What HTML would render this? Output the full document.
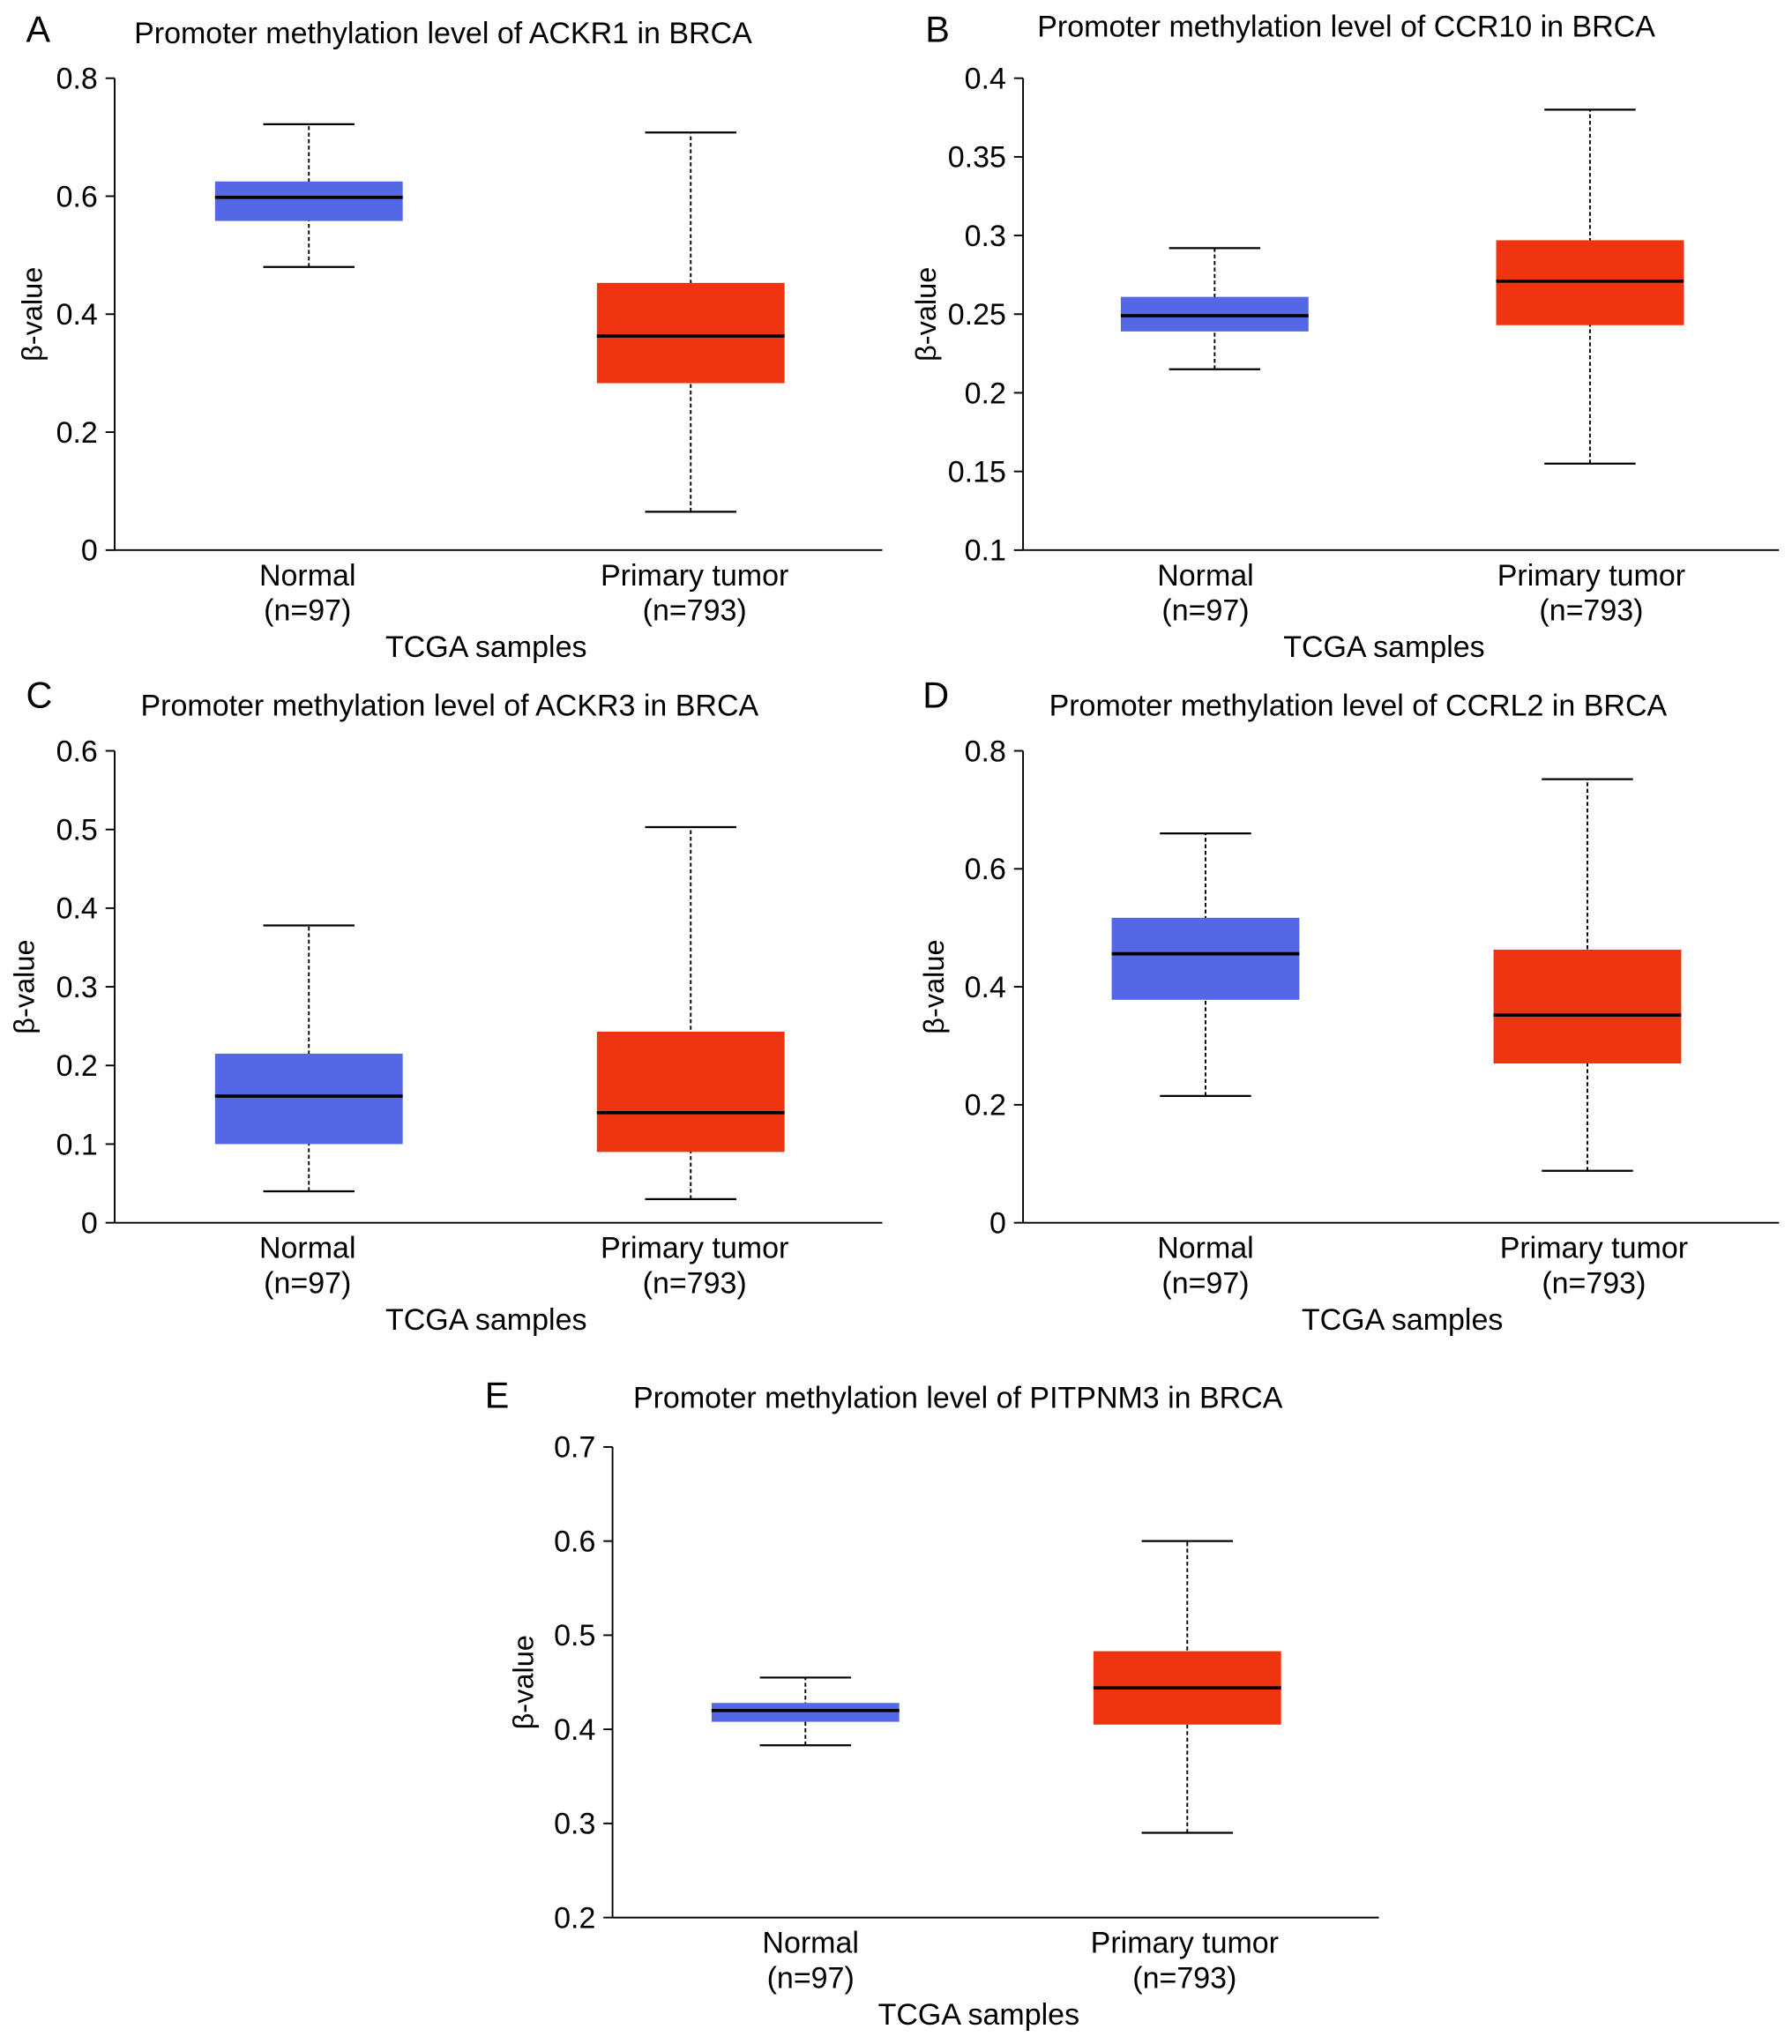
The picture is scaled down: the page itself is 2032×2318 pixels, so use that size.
<!DOCTYPE html>
<html><head><meta charset="utf-8"><style>
html,body{margin:0;padding:0;background:#fff;}
svg{display:block;font-family:"Liberation Sans",Arial,sans-serif;}
</style></head><body>
<svg id="fig" width="2032" height="2318" viewBox="0 0 1375 1568" preserveAspectRatio="none" xmlns="http://www.w3.org/2000/svg"></svg>
<script>
const categories = ["Normal", "Primary tumor"];
const sampleSizes = ["(n=97)", "(n=793)"];
const genes = ["ACKR1", "CCR10", "ACKR3", "CCRL2", "PITPNM3"];
// [whiskerLow, q1, median, q3, whiskerHigh] per group
const ackr1Normal = [0.48, 0.558, 0.598, 0.625, 0.722];
const ackr1Tumor = [0.065, 0.283, 0.363, 0.453, 0.708];
const ccr10Normal = [0.215, 0.239, 0.249, 0.261, 0.292];
const ccr10Tumor = [0.155, 0.243, 0.271, 0.297, 0.380];
const ackr3Normal = [0.04, 0.10, 0.161, 0.215, 0.378];
const ackr3Tumor = [0.03, 0.09, 0.14, 0.243, 0.503];
const ccrl2Normal = [0.215, 0.378, 0.456, 0.517, 0.66];
const ccrl2Tumor = [0.088, 0.27, 0.352, 0.463, 0.752];
const pitpnm3Normal = [0.383, 0.408, 0.42, 0.428, 0.455];
const pitpnm3Tumor = [0.29, 0.405, 0.444, 0.483, 0.6];
const ticksA = [0, 0.2, 0.4, 0.6, 0.8];
const ticksB = [0.1, 0.15, 0.2, 0.25, 0.3, 0.35, 0.4];
const ticksC = [0, 0.1, 0.2, 0.3, 0.4, 0.5, 0.6];
const ticksD = [0, 0.2, 0.4, 0.6, 0.8];
const ticksE = [0.2, 0.3, 0.4, 0.5, 0.6, 0.7];
const tickLabelsB = ["0.1","0.15","0.2","0.25","0.3","0.35","0.4"];

const panels = [
 {letter:"A",gene:genes[0],ax:88,x2:677,top:60,bot:422,ticks:ticksA,c:[237,530],lc:[236,533],data:[ackr1Normal,ackr1Tumor],lx:20,ly:32,tx:340,ty:33,ylx:25,xt:373},
 {letter:"B",gene:genes[1],ax:785,x2:1365,top:60,bot:422,ticks:ticksB,c:[932,1220],lc:[925,1221],data:[ccr10Normal,ccr10Tumor],lx:710,ly:32,tx:1033,ty:28,ylx:711,xt:1062},
 {letter:"C",gene:genes[2],ax:88,x2:677,top:576,bot:938,ticks:ticksC,c:[237,530],lc:[236,533],data:[ackr3Normal,ackr3Tumor],lx:20,ly:543,tx:345,ty:549,ylx:19,xt:373},
 {letter:"D",gene:genes[3],ax:785,x2:1365,top:576,bot:938,ticks:ticksD,c:[925,1218],lc:[925,1223],data:[ccrl2Normal,ccrl2Tumor],lx:708,ly:543,tx:1042,ty:549,ylx:717,xt:1076},
 {letter:"E",gene:genes[4],ax:470,x2:1058,top:1110,bot:1471,ticks:ticksE,c:[618,911],lc:[622,909],data:[pitpnm3Normal,pitpnm3Tumor],lx:372,ly:1080,tx:735,ty:1080,ylx:402,xt:751}
];
const colors = ["#5468e6", "#ef3411"];
const svg = document.getElementById('fig');
const NS = "http://www.w3.org/2000/svg";
function mk(tag, attrs, parent, text){
  const e = document.createElementNS(NS, tag);
  for (const k in attrs) e.setAttribute(k, attrs[k]);
  if (text !== undefined) e.textContent = text;
  parent.appendChild(e); return e;
}
function fmt(v){ return String(Math.round(v*100)/100); }
panels.forEach((p, pi) => {
  const g = mk('g', {}, svg);
  
  
  const lo = p.ticks[0], hi = p.ticks[p.ticks.length-1];
  const y = v => p.bot - (v - lo) / (hi - lo) * (p.bot - p.top);
  let t = mk('text', {x:p.lx, y:p.ly, 'font-size':28}, g, p.letter);
  
  
  t = mk('text', {x:p.tx, y:p.ty, 'font-size':23, 'text-anchor':'middle'}, g, 'Promoter methylation level of ' + p.gene + ' in BRCA');
  
  
  let a = mk('line', {x1:p.ax, y1:p.top, x2:p.ax, y2:p.bot, stroke:'#000', 'stroke-width':1.3}, g);
  
  
  a = mk('line', {x1:p.ax, y1:p.bot, x2:p.x2, y2:p.bot, stroke:'#000', 'stroke-width':1.3}, g);
  
  
  p.ticks.forEach((tv, i) => {
    const yy = y(tv);
    mk('line', {x1:p.ax-7, y1:yy, x2:p.ax, y2:yy, stroke:'#000', 'stroke-width':1.3}, g);
    const lab = mk('text', {x:p.ax-13, y:yy+8, 'font-size':23, 'text-anchor':'end'}, g, p.letter==='B' ? tickLabelsB[i] : fmt(tv));
    
    
  });
  const yl = mk('text', {x:0, y:0, 'font-size':22, 'text-anchor':'middle', transform:`translate(${p.ylx+7},${(p.top+p.bot)/2}) rotate(-90)`}, g, 'β-value');
  
  
  const xl = mk('text', {x:p.xt, y:p.bot+82, 'font-size':23, 'text-anchor':'middle'}, g, 'TCGA samples');
  
  
  p.data.forEach((d, k) => {
    const cx = p.c[k], hw = 72, cw = 35;
    const bg = mk('g', {}, g);
    
    
    mk('line', {x1:cx, y1:y(d[0]), x2:cx, y2:y(d[4]), stroke:'#000', 'stroke-width':1.3, 'stroke-dasharray':'3,2'}, bg);
    mk('line', {x1:cx-cw, y1:y(d[0]), x2:cx+cw, y2:y(d[0]), stroke:'#000', 'stroke-width':1.5}, bg);
    mk('line', {x1:cx-cw, y1:y(d[4]), x2:cx+cw, y2:y(d[4]), stroke:'#000', 'stroke-width':1.5}, bg);
    mk('rect', {x:cx-hw, y:y(d[3]), width:2*hw, height:y(d[1])-y(d[3]), fill:colors[k]}, bg);
    mk('line', {x1:cx-hw, y1:y(d[2]), x2:cx+hw, y2:y(d[2]), stroke:'#000', 'stroke-width':2.5}, bg);
    const c1 = mk('text', {x:p.lc[k], y:p.bot+27, 'font-size':23, 'text-anchor':'middle'}, g, categories[k]);
    
    
    const c2 = mk('text', {x:p.lc[k], y:p.bot+54, 'font-size':23, 'text-anchor':'middle'}, g, sampleSizes[k]);
    
    
  });
});
</script>
</body></html>
